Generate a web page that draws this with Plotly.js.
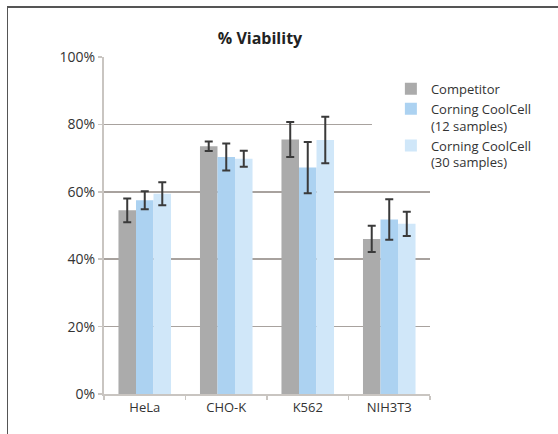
<!DOCTYPE html>
<html>
<head>
<meta charset="utf-8">
<script src="https://cdn.plot.ly/plotly-3.0.1.min.js"></script>
<style>
  html, body { margin: 0; padding: 0; background: #fff; }
  #wrap { position: relative; width: 558px; height: 434px; }
  #chart { width: 558px; height: 434px; }
  #frame { position: absolute; left: 7px; top: 6px; right: 0; bottom: 0;
           border-top: 2px solid #555; border-left: 1.5px solid #555; pointer-events: none; }
</style>
</head>
<body>
<div id="wrap">
  <div id="chart"></div>
  <div id="frame"></div>
</div>
<script>
const categories = ["HeLa", "CHO-K", "K562", "NIH3T3"];
const seriesNames = ["Competitor", "Corning CoolCell<br>(12 samples)", "Corning CoolCell<br>(30 samples)"];
const competitor = [54.5, 73.5, 75.5, 46.0];
const competitorErr = [3.5, 1.4, 5.2, 3.9];
const coolcell12 = [57.5, 70.3, 67.2, 51.8];
const coolcell12Err = [2.7, 4.0, 7.6, 6.0];
const coolcell30 = [59.4, 69.8, 75.4, 50.5];
const coolcell30Err = [3.4, 2.4, 6.9, 3.6];
const yTicks = [0, 20, 40, 60, 80, 100];

const colors = ["#ababab", "#acd2f1", "#d0e7f9"];
const values = [competitor, coolcell12, coolcell30];
const errs = [competitorErr, coolcell12Err, coolcell30Err];

const traces = values.map((v, i) => ({
  type: "bar",
  name: seriesNames[i],
  x: categories,
  y: v,
  marker: { color: colors[i], line: { width: 0 } },
  error_y: { type: "data", array: errs[i], visible: true, color: "#3a3a3a", thickness: 2, width: 4 },
  hoverinfo: "skip"
}));

const font = "'Open Sans', 'Noto Sans', sans-serif";

const layout = {
  width: 558, height: 434,
  margin: { l: 104, r: 128, t: 57, b: 40 },
  paper_bgcolor: "#fff", plot_bgcolor: "#fff",
  barmode: "group", bargap: 0.355, bargroupgap: 0,
  font: { family: font, size: 13, color: "#333" },
  title: {
    text: "<b>% Viability</b>",
    font: { family: font, size: 16, color: "#222" },
    xref: "container", yref: "container",
    x: 0.466, xanchor: "center", y: 0.912, yanchor: "middle"
  },
  xaxis: {
    type: "category",
    showline: true, linecolor: "#c9c5c1", linewidth: 2,
    ticks: "outside", tickson: "boundaries", ticklen: 4, tickcolor: "#c9c5c1", tickwidth: 1.5,
    showgrid: false, zeroline: false,
    tickfont: { family: font, size: 13, color: "#333" }
  },
  yaxis: {
    range: [0, 100], tickvals: yTicks, ticktext: yTicks.map(t => t + "%"),
    showline: true, linecolor: "#c9c5c1", linewidth: 2,
    ticks: "outside", ticklen: 4, tickcolor: "#c9c5c1", tickwidth: 1.5,
    showgrid: true, gridcolor: "#a8a29e", gridwidth: 1.5,
    zeroline: false,
    tickfont: { family: font, size: 14, color: "#333" }
  },
  legend: {
    x: 0.88, xanchor: "left", y: 0.95, yanchor: "top",
    bgcolor: "rgba(0,0,0,0)", valign: "top",
    font: { family: font, size: 13, color: "#333" },
    tracegroupgap: 0
  },
  shapes: [{
    type: "rect", xref: "paper", yref: "paper", layer: "above",
    x0: 0.822, x1: 1.01, y0: 0.72, y1: 0.88,
    fillcolor: "#fff", line: { width: 0 }
  }],
  showlegend: true
};

Plotly.newPlot("chart", traces, layout, { displayModeBar: false, staticPlot: true });
</script>
</body>
</html>
